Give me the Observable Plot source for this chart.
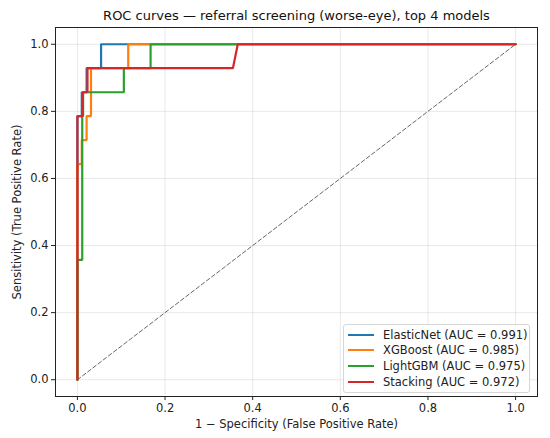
<!DOCTYPE html>
<html>
<head>
<meta charset="utf-8">
<script src="https://cdn.jsdelivr.net/npm/d3@7"></script>
<script src="https://cdn.jsdelivr.net/npm/@observablehq/plot@0.6"></script>
<style>
  html, body { margin: 0; padding: 0; background: #fff; }
  #wrap { position: relative; width: 550px; height: 438px; font-family: "DejaVu Sans", sans-serif; }
  #legend {
    position: absolute; left: 343px; top: 324px; width: 187px;
    border: 1px solid #d6d6d6; border-radius: 3px; background: rgba(255,255,255,0.85);
    padding: 2px 0 3px 0; box-sizing: border-box;
    font-size: 11.5px; color: #222;
  }
  #legend .row { display: flex; align-items: center; height: 15.6px; }
  #legend .swatch { width: 26px; height: 2px; margin: 0 9px 0 4px; }
</style>
</head>
<body>
<div id="wrap"><div id="legend"></div></div>
<script>
// ROC curves for the four best models (14 positive cases in the test set)
const models = ["ElasticNet", "XGBoost", "LightGBM", "Stacking"];
const aucs = [0.991, 0.985, 0.975, 0.972];
const colors = ["#1f77b4", "#ff7f0e", "#2ca02c", "#d62728"];

const elasticNetFpr = [0, 0,     0.010, 0.010, 0.021, 0.021, 0.054, 0.054, 1];
const elasticNetTpr = [0, 0.786, 0.786, 0.857, 0.857, 0.929, 0.929, 1,     1];

const xgboostFpr = [0, 0,     0.010, 0.010, 0.021, 0.021, 0.031, 0.031, 0.116, 0.116, 1];
const xgboostTpr = [0, 0.643, 0.643, 0.714, 0.714, 0.786, 0.786, 0.929, 0.929, 1,     1];

const lightgbmFpr = [0, 0,     0.011, 0.011, 0.013, 0.013, 0.106, 0.106, 0.167, 0.167, 1];
const lightgbmTpr = [0, 0.357, 0.357, 0.786, 0.786, 0.857, 0.857, 0.929, 0.929, 1,     1];

const stackingFpr = [0, 0,     0.012, 0.012, 0.023, 0.023, 0.355, 0.366, 1];
const stackingTpr = [0, 0.786, 0.786, 0.857, 0.857, 0.929, 0.929, 1,     1];

const xTicks = [0, 0.2, 0.4, 0.6, 0.8, 1.0];
const yTicks = [0, 0.2, 0.4, 0.6, 0.8, 1.0];
const chance = [0, 1];

const fprs = [elasticNetFpr, xgboostFpr, lightgbmFpr, stackingFpr];
const tprs = [elasticNetTpr, xgboostTpr, lightgbmTpr, stackingTpr];

const rows = models.flatMap((m, i) =>
  fprs[i].map((f, j) => ({model: m, fpr: f, tpr: tprs[i][j]}))
);
const labelOf = (m, i) => `${m} (AUC = ${aucs[i].toFixed(3)})`;

const chart = Plot.plot({
  width: 550,
  height: 438,
  marginLeft: 55,
  marginRight: 13,
  marginTop: 27,
  marginBottom: 42,
  style: {fontFamily: "DejaVu Sans, sans-serif", fontSize: "11px", color: "#222"},
  x: {domain: [-0.05, 1.05], ticks: xTicks, tickFormat: d3.format(".1f")},
  y: {domain: [-0.05, 1.05], ticks: yTicks, tickFormat: d3.format(".1f")},
  color: {domain: models, range: colors},
  marks: [
    Plot.gridX(xTicks, {stroke: "#b0b0b0", strokeOpacity: 0.35, strokeWidth: 0.8}),
    Plot.gridY(yTicks, {stroke: "#b0b0b0", strokeOpacity: 0.35, strokeWidth: 0.8}),
    Plot.axisX(xTicks, {tickSize: 4, tickPadding: 3, fontSize: 11.5, label: "1 − Specificity (False Positive Rate)", labelAnchor: "center", labelArrow: "none", labelOffset: 31}),
    Plot.axisY(yTicks, {tickSize: 4, tickPadding: 3, fontSize: 11.5, label: "Sensitivity (True Positive Rate)", labelAnchor: "center", labelArrow: "none", labelOffset: 43}),
    Plot.line(chance, {x: d => d, y: d => d, stroke: "#555", strokeWidth: 0.9, strokeDasharray: "4,2.5"}),
    Plot.line(rows, {x: "fpr", y: "tpr", z: "model", stroke: "model", strokeWidth: 2.2, strokeLinejoin: "miter"}),
    Plot.frame({stroke: "#222", strokeWidth: 1}),
    Plot.text(["ROC curves — referral screening (worse-eye), top 4 models"], {frameAnchor: "top", dy: -17, fontSize: 13, fill: "#111"})
  ]
});

const wrap = document.getElementById("wrap");
wrap.insertBefore(chart, wrap.firstChild);

const legend = document.getElementById("legend");
models.forEach((m, i) => {
  const row = document.createElement("div");
  row.className = "row";
  const sw = document.createElement("span");
  sw.className = "swatch";
  sw.style.background = colors[i];
  const tx = document.createElement("span");
  tx.textContent = labelOf(m, i);
  row.appendChild(sw);
  row.appendChild(tx);
  legend.appendChild(row);
});
</script>
</body>
</html>
